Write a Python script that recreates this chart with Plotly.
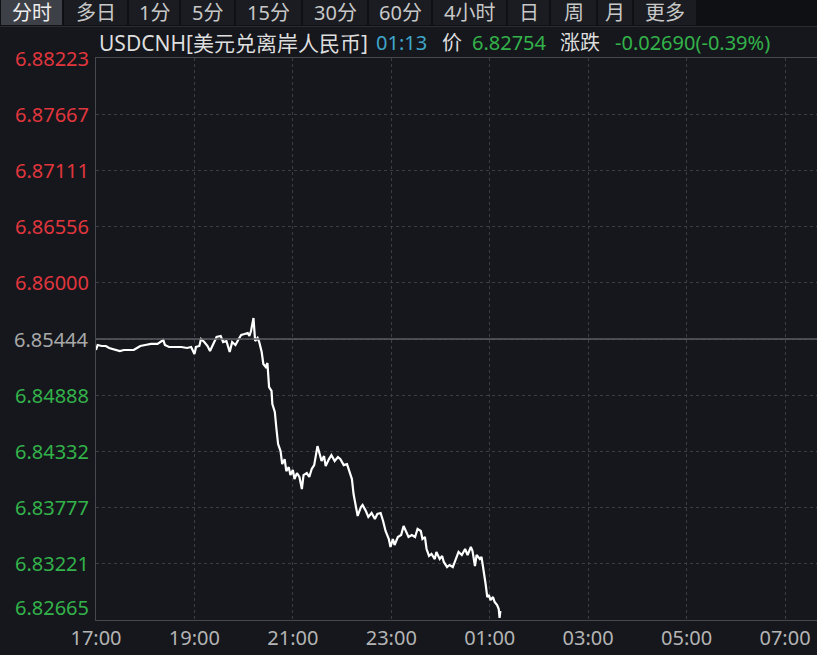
import plotly.graph_objects as go
import pandas as pd

W, H = 817, 655
FONT = "Noto Sans, Noto Sans CJK SC, sans-serif"

# ---------------- data ----------------
base = pd.Timestamp("2024-01-01 17:00")
minutes = [0, 2, 7, 12, 16, 20, 24, 29, 34, 40, 46, 50, 54, 60, 67, 75, 79, 82, 84, 89,
           97, 104, 111, 116, 120, 122, 126, 128, 132, 136, 139, 143, 147, 152, 155, 159, 163, 166, 170, 174,
           177, 181, 185, 187, 189, 192, 193, 194, 197, 199, 202, 204, 207, 209, 211, 214, 215, 218, 220, 222,
           225, 227, 230, 232, 235, 237, 240, 242, 245, 248, 251, 253, 257, 260, 263, 266, 270, 273, 275, 278,
           280, 284, 287, 291, 295, 298, 302, 306, 309, 312, 314, 317, 319, 323, 325, 329, 332, 336, 340, 343,
           347, 350, 353, 357, 359, 362, 364, 368, 372, 375, 378, 381, 385, 389, 392, 396, 398, 401, 403, 406,
           409, 413, 415, 419, 422, 424, 428, 431, 435, 439, 442, 446, 450, 453, 457, 459, 462, 464, 468, 470,
           473, 475, 477, 479, 481, 484, 486, 489, 491, 492, 493]
prices = [6.85335, 6.85385, 6.85375, 6.85375, 6.85355, 6.85345, 6.85335, 6.85325, 6.85335, 6.85335,
          6.85335, 6.85355, 6.85375, 6.85385, 6.85395, 6.85395, 6.85414, 6.85434, 6.85385, 6.85365,
          6.85365, 6.85365, 6.85355, 6.85365, 6.85296, 6.85365, 6.85375, 6.85444, 6.85414, 6.85375,
          6.85325, 6.85404, 6.85464, 6.85474, 6.85414, 6.85424, 6.85315, 6.85414, 6.85385, 6.85444,
          6.85484, 6.85493, 6.85503, 6.85474, 6.85523, 6.85652, 6.85523, 6.85424, 6.85454, 6.85414,
          6.85315, 6.85197, 6.85167, 6.85207, 6.84969, 6.84930, 6.84801, 6.84722, 6.84554, 6.84405,
          6.84336, 6.84207, 6.84256, 6.84138, 6.84177, 6.84098, 6.84148, 6.84059, 6.84118, 6.84079,
          6.83960, 6.84098, 6.84118, 6.84079, 6.84158, 6.84197, 6.84385, 6.84306, 6.84237, 6.84286,
          6.84187, 6.84256, 6.84296, 6.84237, 6.84276, 6.84256, 6.84197, 6.84207, 6.84138, 6.84059,
          6.83911, 6.83763, 6.83694, 6.83783, 6.83803, 6.83743, 6.83684, 6.83723, 6.83664, 6.83714,
          6.83723, 6.83644, 6.83545, 6.83466, 6.83387, 6.83466, 6.83407, 6.83486, 6.83506, 6.83595,
          6.83545, 6.83486, 6.83506, 6.83486, 6.83565, 6.83545, 6.83466, 6.83486, 6.83367, 6.83298,
          6.83318, 6.83268, 6.83338, 6.83268, 6.83298, 6.83239, 6.83189, 6.83209, 6.83189, 6.83268,
          6.83338, 6.83308, 6.83367, 6.83308, 6.83387, 6.83348, 6.83199, 6.83308, 6.83268, 6.83288,
          6.83149, 6.83021, 6.82892, 6.82912, 6.82862, 6.82892, 6.82843, 6.82813, 6.82773, 6.82685,
          6.82754]

prev_close = 6.85444
y_ticks = [6.88223, 6.87667, 6.87111, 6.86556, 6.86000, 6.85444,
           6.84888, 6.84332, 6.83777, 6.83221, 6.82665]
y_tick_labels = ["6.88223", "6.87667", "6.87111", "6.86556", "6.86000", "6.85444",
                 "6.84888", "6.84332", "6.83777", "6.83221", "6.82665"]
x_tick_labels = ["17:00", "19:00", "21:00", "23:00", "01:00", "03:00", "05:00", "07:00"]
x_tick_times = [pd.Timestamp("2024-01-01 17:00") + pd.Timedelta(hours=2 * i) for i in range(8)]

tabs = ["分时", "多日", "1分", "5分", "15分", "30分", "60分", "4小时", "日", "周", "月", "更多"]
tab_edges = [0, 63, 128, 180, 235, 302, 368, 432, 507, 550, 597, 633, 697]

symbol_text = "USDCNH[美元兑离岸人民币]"
time_text = "01:13"
price_label, price_value = "价", "6.82754"
change_label, change_value = "涨跌", "-0.02690(-0.39%)"

# ---------------- colours ----------------
BG = "#15171c"
GRID = "#3a3d45"
FRAME = "#45484f"
RED = "#e0363d"
GREEN = "#33b24a"
GREY = "#a8a8a8"

times = [base + pd.Timedelta(minutes=m) for m in minutes]

fig = go.Figure()
fig.add_trace(go.Scatter(x=times, y=prices, mode="lines",
                         line=dict(color="#ffffff", width=2.2), hoverinfo="skip"))

def px(x):
    return x / W

def py(y):
    return 1 - y / H

shapes = []
annotations = []

# tab bar
shapes.append(dict(type="rect", xref="paper", yref="paper", x0=0, x1=1, y0=py(26), y1=1,
                   fillcolor="#0e1013", line=dict(width=0), layer="below"))
shapes.append(dict(type="line", xref="paper", yref="paper", x0=0, x1=1, y0=py(26.5), y1=py(26.5),
                   line=dict(color="#2a2c32", width=1)))
for i, t in enumerate(tabs):
    x0, x1 = tab_edges[i], tab_edges[i + 1]
    shapes.append(dict(type="rect", xref="paper", yref="paper",
                       x0=px(x0 + 1), x1=px(x1 - 1), y0=py(25), y1=1,
                       fillcolor="#3d4047" if i == 0 else "#1a1c21",
                       line=dict(width=0), layer="below"))
    annotations.append(dict(x=px((x0 + x1) / 2), y=py(12.5), xref="paper", yref="paper",
                            text=t, showarrow=False, xanchor="center", yanchor="middle",
                            font=dict(family=FONT, size=20,
                                      color="#eeeeee" if i == 0 else "#c8c8c8")))

# title row
for txt, x, col, sz in [(symbol_text, 97, "#dedede", 21), (time_text, 374, "#3fa6c9", 20),
                        (price_label, 440, "#dedede", 20), (price_value, 470, GREEN, 20),
                        (change_label, 558, "#dedede", 20), (change_value, 613, GREEN, 20)]:
    annotations.append(dict(x=px(x), y=py(43), xref="paper", yref="paper", text=txt,
                            showarrow=False, xanchor="left", yanchor="middle",
                            font=dict(family=FONT, size=sz, color=col)))

# y labels
for v, lab in zip(y_ticks, y_tick_labels):
    col = RED if v > prev_close else (GREY if v == prev_close else GREEN)
    shift = 13 if v == min(y_ticks) else 0
    annotations.append(dict(x=px(91), y=v, xref="paper", yref="y", text=lab,
                            showarrow=False, xanchor="right", yanchor="middle", yshift=shift,
                            font=dict(family=FONT, size=20, color=col)))

# previous close line
shapes.append(dict(type="line", xref="paper", yref="y", x0=px(96), x1=1,
                   y0=prev_close, y1=prev_close, line=dict(color="#5c5e63", width=1.5)))

fig.update_layout(
    width=W, height=H,
    margin=dict(l=0, r=0, t=0, b=0, autoexpand=False),
    paper_bgcolor=BG, plot_bgcolor=BG,
    showlegend=False,
    shapes=shapes, annotations=annotations,
    xaxis=dict(domain=[96 / W, 1], type="date", automargin=False,
               range=[pd.Timestamp("2024-01-01 17:00"), pd.Timestamp("2024-01-02 07:39")],
               tickvals=x_tick_times, ticktext=x_tick_labels,
               showgrid=True, gridcolor=GRID, griddash="dot", gridwidth=1,
               showline=True, linecolor=FRAME, linewidth=1, mirror=True,
               ticks="", zeroline=False,
               tickfont=dict(family=FONT, size=20, color="#b4b4b4")),
    yaxis=dict(domain=[1 - 620 / H, 1 - 58 / H], automargin=False,
               range=[min(y_ticks), max(y_ticks)],
               tickvals=y_ticks, showticklabels=False,
               showgrid=True, gridcolor=GRID, griddash="dot", gridwidth=1,
               showline=True, linecolor=FRAME, linewidth=1,
               ticks="", zeroline=False),
)

fig.write_html(
    "out.html",
    config={"displayModeBar": False},
    post_script="document.body.style.margin='0';document.body.style.overflow='hidden';"
                "document.body.style.background='" + BG + "';",
)
